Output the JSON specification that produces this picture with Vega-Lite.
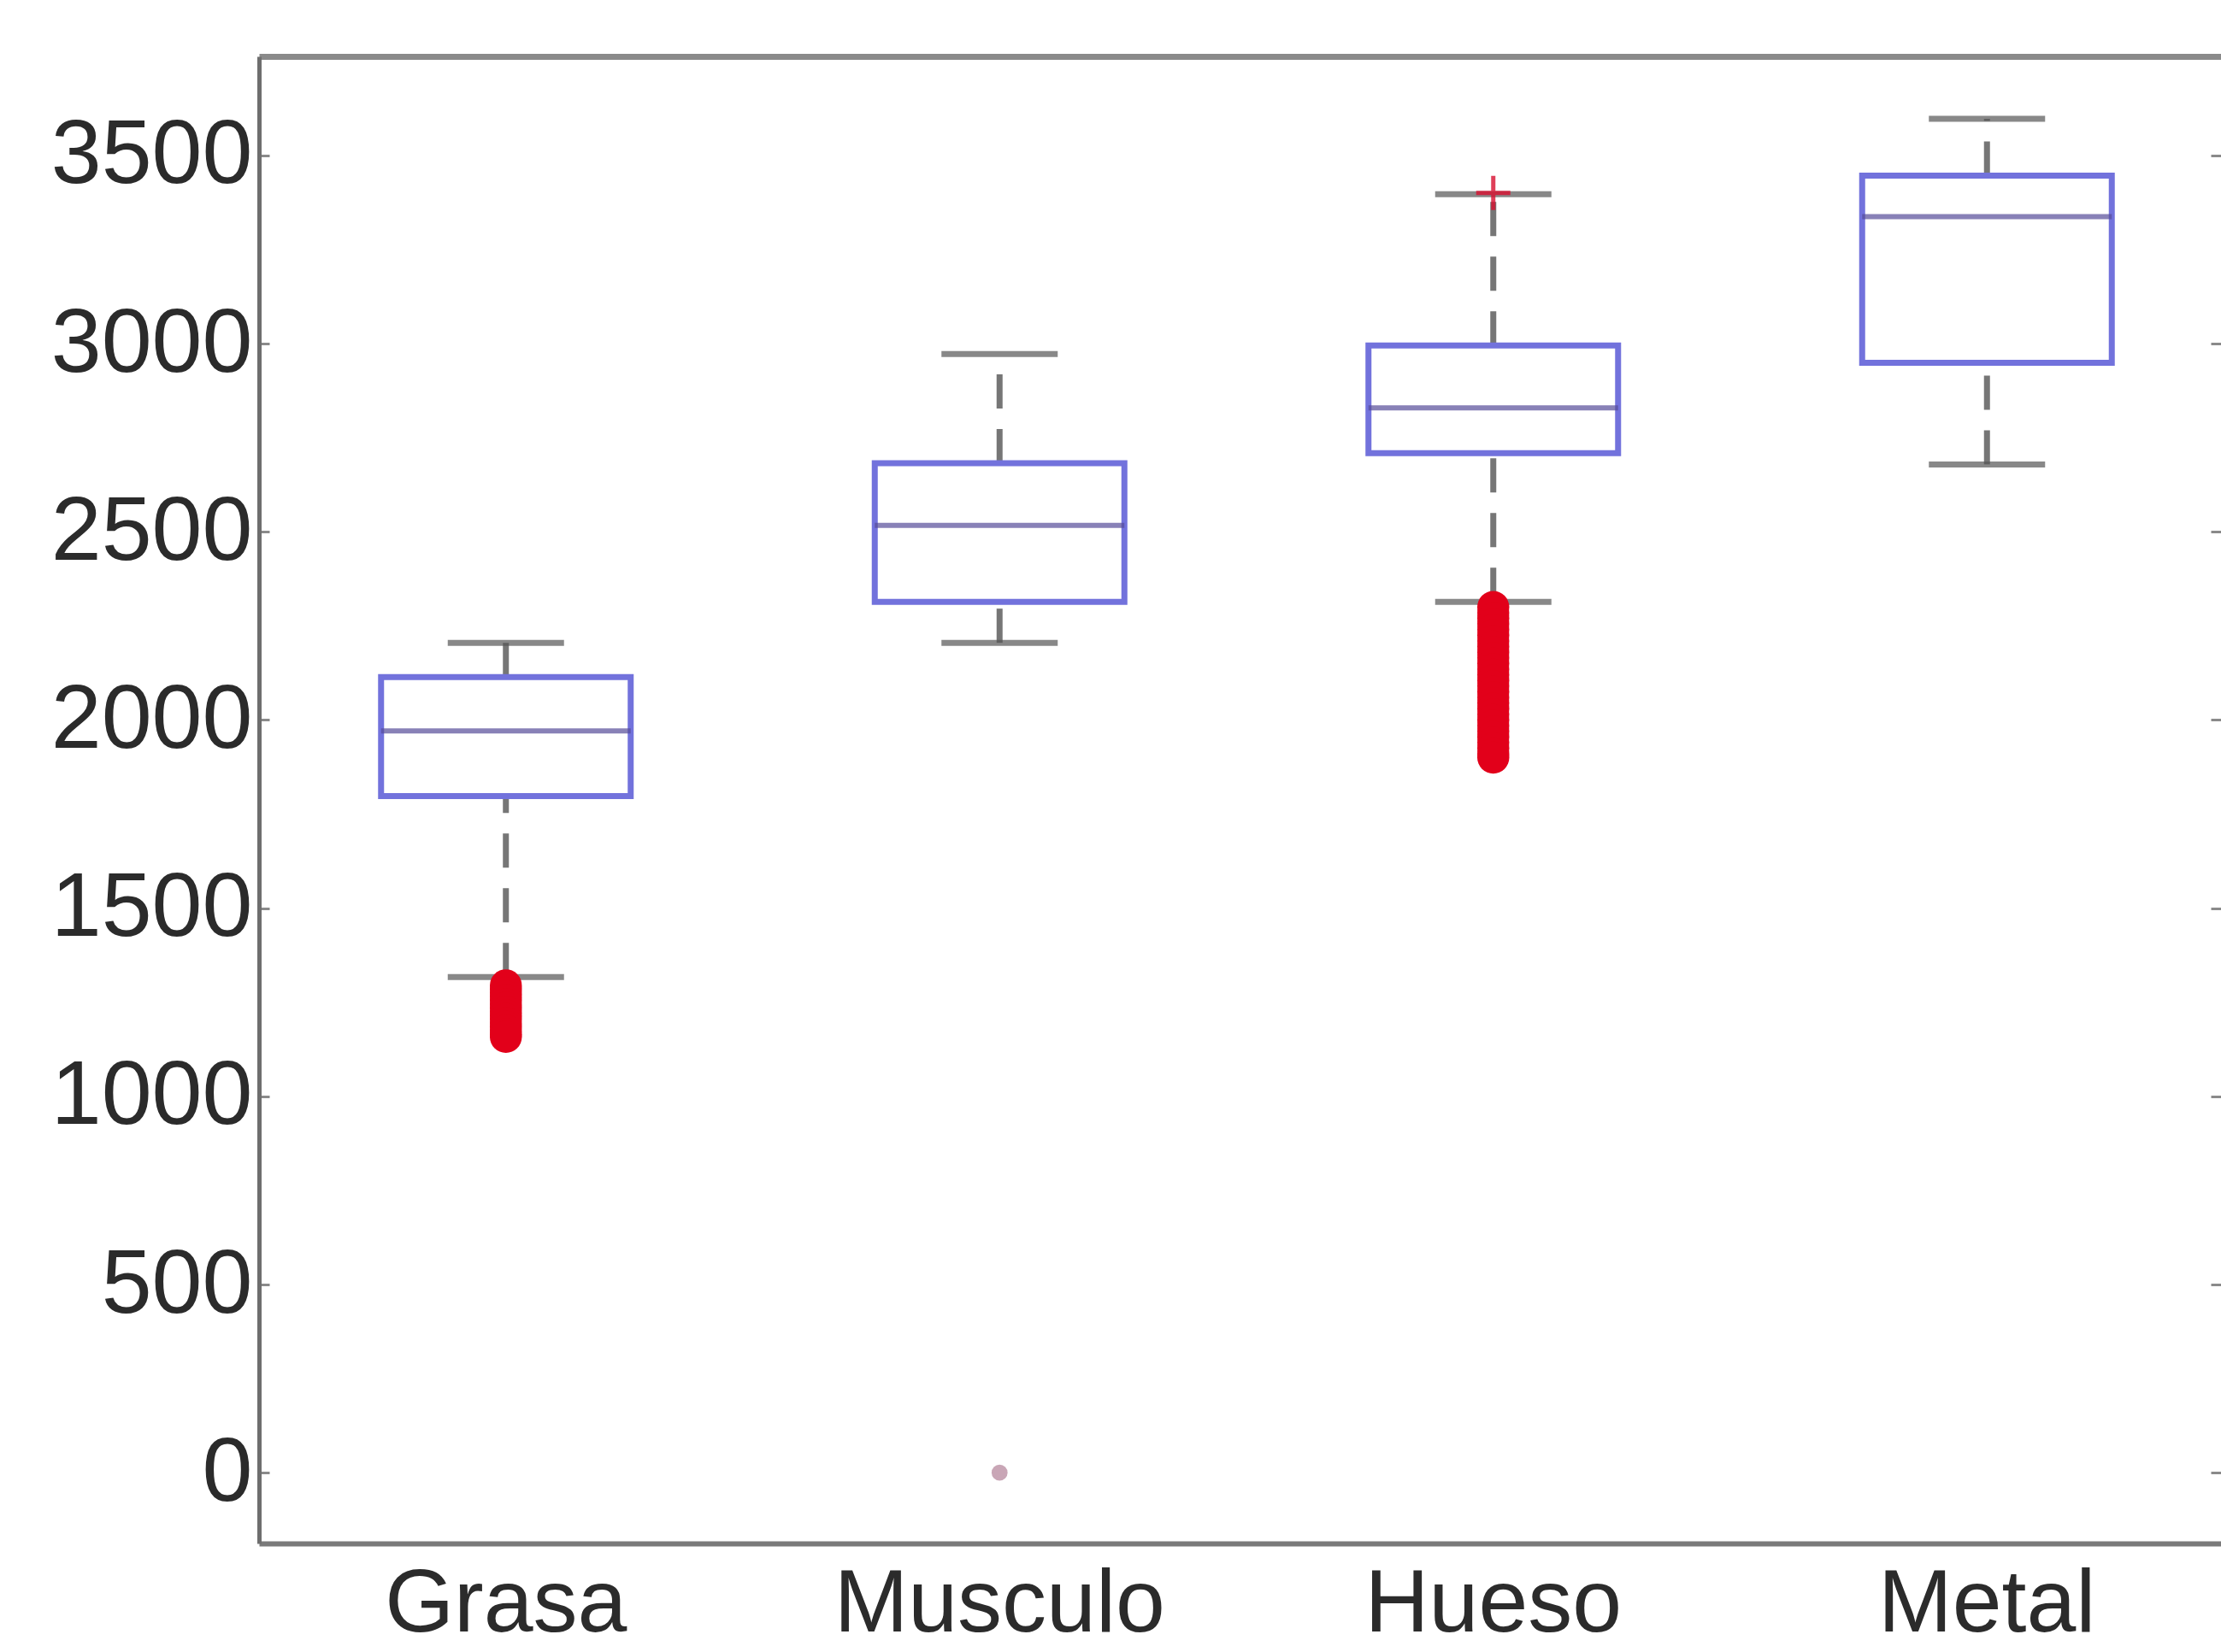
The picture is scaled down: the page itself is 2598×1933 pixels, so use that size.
{
  "$schema": "https://vega.github.io/schema/vega-lite/v6.json",
  "width": 2295,
  "height": 1740,
  "autosize": {"type": "none"},
  "padding": {"left": 303, "top": 66, "right": 0, "bottom": 127},
  "background": "white",
  "config": {
    "view": {"stroke": null},
    "font": "Liberation Sans",
    "axis": {"labelFont": "Liberation Sans", "labelColor": "#2b2b2b", "grid": false, "title": null, "labelLimit": 0}
  },
  "datasets": {
    "boxes": [
      {"tejido": "Grasa", "lower": 1317, "q1": 1798, "median": 1971, "q3": 2114, "upper": 2205},
      {"tejido": "Musculo", "lower": 2205, "q1": 2314, "median": 2517, "q3": 2682, "upper": 2972},
      {"tejido": "Hueso", "lower": 2314, "q1": 2709, "median": 2829, "q3": 2995, "upper": 3397},
      {"tejido": "Metal", "lower": 2679, "q1": 2949, "median": 3337, "q3": 3446, "upper": 3597}
    ],
    "outliers": [
      {"tejido": "Grasa", "valor": 1295}, {"tejido": "Grasa", "valor": 1285}, {"tejido": "Grasa", "valor": 1275},
      {"tejido": "Grasa", "valor": 1265}, {"tejido": "Grasa", "valor": 1255}, {"tejido": "Grasa", "valor": 1245},
      {"tejido": "Grasa", "valor": 1235}, {"tejido": "Grasa", "valor": 1225}, {"tejido": "Grasa", "valor": 1215},
      {"tejido": "Grasa", "valor": 1205}, {"tejido": "Grasa", "valor": 1195}, {"tejido": "Grasa", "valor": 1185},
      {"tejido": "Grasa", "valor": 1175}, {"tejido": "Grasa", "valor": 1165}, {"tejido": "Grasa", "valor": 1158},
      {"tejido": "Hueso", "valor": 2300}, {"tejido": "Hueso", "valor": 2285}, {"tejido": "Hueso", "valor": 2270},
      {"tejido": "Hueso", "valor": 2255}, {"tejido": "Hueso", "valor": 2240}, {"tejido": "Hueso", "valor": 2225},
      {"tejido": "Hueso", "valor": 2210}, {"tejido": "Hueso", "valor": 2195}, {"tejido": "Hueso", "valor": 2180},
      {"tejido": "Hueso", "valor": 2165}, {"tejido": "Hueso", "valor": 2150}, {"tejido": "Hueso", "valor": 2135},
      {"tejido": "Hueso", "valor": 2120}, {"tejido": "Hueso", "valor": 2105}, {"tejido": "Hueso", "valor": 2090},
      {"tejido": "Hueso", "valor": 2075}, {"tejido": "Hueso", "valor": 2060}, {"tejido": "Hueso", "valor": 2045},
      {"tejido": "Hueso", "valor": 2030}, {"tejido": "Hueso", "valor": 2015}, {"tejido": "Hueso", "valor": 2000},
      {"tejido": "Hueso", "valor": 1985}, {"tejido": "Hueso", "valor": 1970}, {"tejido": "Hueso", "valor": 1955},
      {"tejido": "Hueso", "valor": 1940}, {"tejido": "Hueso", "valor": 1925}, {"tejido": "Hueso", "valor": 1910},
      {"tejido": "Hueso", "valor": 1900}
    ],
    "faint": [
      {"tejido": "Musculo", "valor": 0}
    ],
    "cross": [
      {"tejido": "Hueso", "valor": 3400}
    ]
  },
  "resolve": {"axis": {"x": "independent", "y": "independent"}},
  "layer": [
    {
      "data": {"name": "boxes"},
      "mark": {"type": "rule", "color": "#767676", "strokeWidth": 7, "strokeDash": [40, 24]},
      "encoding": {
        "x": {
          "field": "tejido", "type": "nominal", "sort": ["Grasa", "Musculo", "Hueso", "Metal"],
          "scale": {"type": "band", "domain": ["Grasa", "Musculo", "Hueso", "Metal"], "range": [0, 2310], "paddingInner": 0, "paddingOuter": 0},
          "axis": {"orient": "bottom", "ticks": false, "domainColor": "#7a7a7a", "domainWidth": 6, "labelFontSize": 104, "labelPadding": 20, "labelAngle": 0, "labelColor": "#2b2b2b", "labelLimit": 0}
        },
        "y": {
          "field": "q3", "type": "quantitative",
          "scale": {"domain": [-188, 3763], "nice": false, "zero": false},
          "axis": {"orient": "left", "values": [0, 500, 1000, 1500, 2000, 2500, 3000, 3500], "format": "d", "tickSize": -12, "tickWidth": 3, "tickColor": "#8a8a8a", "domainColor": "#6e6e6e", "domainWidth": 5, "labelFontSize": 106, "labelPadding": 20, "labelColor": "#2b2b2b", "labelLimit": 0}
        },
        "y2": {"field": "upper"}
      }
    },
    {
      "data": {"name": "boxes"},
      "mark": {"type": "rule", "color": "#767676", "strokeWidth": 7, "strokeDash": [40, 24]},
      "encoding": {
        "x": {
          "field": "tejido", "type": "nominal",
          "axis": {"orient": "top", "ticks": false, "labels": false, "domainColor": "#8a8a8a", "domainWidth": 7}
        },
        "y": {
          "field": "lower", "type": "quantitative",
          "axis": {"orient": "right", "values": [0, 500, 1000, 1500, 2000, 2500, 3000, 3500], "tickSize": -12, "tickWidth": 3, "tickColor": "#8a8a8a", "domain": false, "labels": false}
        },
        "y2": {"field": "q1"}
      }
    },
    {
      "data": {"name": "boxes"},
      "mark": {"type": "tick", "color": "#555555", "thickness": 7, "size": 136},
      "encoding": {
        "x": {"field": "tejido", "type": "nominal", "axis": null},
        "y": {"field": "upper", "type": "quantitative", "axis": null}
      }
    },
    {
      "data": {"name": "boxes"},
      "mark": {"type": "tick", "color": "#555555", "thickness": 7, "size": 136},
      "encoding": {
        "x": {"field": "tejido", "type": "nominal", "axis": null},
        "y": {"field": "lower", "type": "quantitative", "axis": null}
      }
    },
    {
      "data": {"name": "boxes"},
      "mark": {"type": "bar", "fill": "white", "fillOpacity": 0, "stroke": "#7272dc", "strokeWidth": 7, "width": 292},
      "encoding": {
        "x": {"field": "tejido", "type": "nominal", "axis": null},
        "y": {"field": "q1", "type": "quantitative", "axis": null},
        "y2": {"field": "q3"}
      }
    },
    {
      "data": {"name": "boxes"},
      "mark": {"type": "tick", "color": "#564c98", "thickness": 6, "size": 292},
      "encoding": {
        "x": {"field": "tejido", "type": "nominal", "axis": null},
        "y": {"field": "median", "type": "quantitative", "axis": null}
      }
    },
    {
      "data": {"name": "outliers"},
      "mark": {"type": "point", "shape": "circle", "filled": true, "color": "#e2001a", "opacity": 1, "size": 1400},
      "encoding": {
        "x": {"field": "tejido", "type": "nominal", "axis": null},
        "y": {"field": "valor", "type": "quantitative", "axis": null}
      }
    },
    {
      "data": {"name": "faint"},
      "mark": {"type": "point", "shape": "circle", "filled": true, "color": "#c9a6b6", "opacity": 1, "size": 350},
      "encoding": {
        "x": {"field": "tejido", "type": "nominal", "axis": null},
        "y": {"field": "valor", "type": "quantitative", "axis": null}
      }
    },
    {
      "data": {"name": "cross"},
      "mark": {"type": "point", "shape": "M-1,0H1M0,-1V1", "filled": false, "stroke": "#d81030", "strokeWidth": 5, "opacity": 0.8, "size": 1600},
      "encoding": {
        "x": {"field": "tejido", "type": "nominal", "axis": null},
        "y": {"field": "valor", "type": "quantitative", "axis": null}
      }
    }
  ]
}
